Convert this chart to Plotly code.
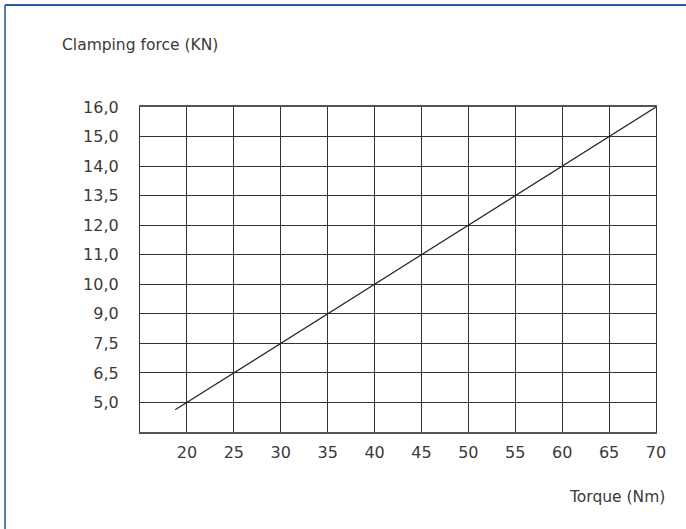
import plotly.graph_objects as go

# torque (Nm) on the x axis, clamping force (KN) labels on the y axis
torque = [20, 25, 30, 35, 40, 45, 50, 55, 60, 65, 70]
force_labels = ["5,0", "6,5", "7,5", "9,0", "10,0", "11,0", "12,0", "13,5", "14,0", "15,0", "16,0"]

# the line starts a little below the first grid point
start_torque = 18.75
start_pos = -0.25

# y labels sit on evenly spaced rows
rows = list(range(len(force_labels)))

line_x = [start_torque] + torque
line_y = [start_pos] + rows

fig = go.Figure(
    data=go.Scatter(
        x=line_x,
        y=line_y,
        mode="lines",
        line=dict(color="#222222", width=1.2),
        hoverinfo="skip",
    )
)

family = "'DejaVu Sans', sans-serif"
font = dict(family=family, size=16, color="#3a3a3a")

fig.update_layout(
    width=686,
    height=529,
    margin=dict(l=140, r=30, t=107, b=97),
    paper_bgcolor="white",
    plot_bgcolor="white",
    showlegend=False,
    font=font,
    xaxis=dict(
        range=[15, 70],
        tickvals=torque,
        ticktext=[str(t) for t in torque],
        showgrid=True,
        gridcolor="#333333",
        gridwidth=1.2,
        zeroline=False,
        showline=True,
        linecolor="#555555",
        linewidth=2,
        mirror=True,
        ticks="outside",
        ticklen=5,
        tickcolor="rgba(0,0,0,0)",
        tickfont=font,
    ),
    yaxis=dict(
        range=[-1, 10],
        tickvals=rows,
        ticktext=force_labels,
        showgrid=True,
        gridcolor="#333333",
        gridwidth=1.2,
        zeroline=False,
        showline=True,
        linecolor="#333333",
        linewidth=1.2,
        mirror=True,
        ticks="outside",
        ticklen=17,
        tickcolor="rgba(0,0,0,0)",
        tickfont=font,
    ),
    annotations=[
        dict(
            text="Clamping force (KN)",
            xref="paper", yref="paper",
            x=-0.155, y=1.19,
            xanchor="left", yanchor="middle",
            showarrow=False,
            font=dict(family=family, size=15.5, color="#3a3a3a"),
        ),
        dict(
            text="Torque (Nm)",
            xref="paper", yref="paper",
            x=1.022, y=-0.2,
            xanchor="right", yanchor="middle",
            showarrow=False,
            font=dict(family=family, size=15.5, color="#3a3a3a"),
        ),
    ],
    shapes=[
        # frame lines along the top and left of the page
        dict(type="line", xref="paper", yref="paper",
             x0=-0.2616, x1=1.06, y0=1.314, y1=1.314,
             line=dict(color="#2b57a5", width=2)),
        dict(type="line", xref="paper", yref="paper",
             x0=-0.2616, x1=-0.2616, y0=1.314, y1=-0.30,
             line=dict(color="#5a7ab8", width=2)),
    ],
)

# drop the browser's default body margin so the figure sits at the page corner
fig.write_html(
    "out.html",
    config={"displayModeBar": False},
    post_script="document.body.style.margin='0';",
)
